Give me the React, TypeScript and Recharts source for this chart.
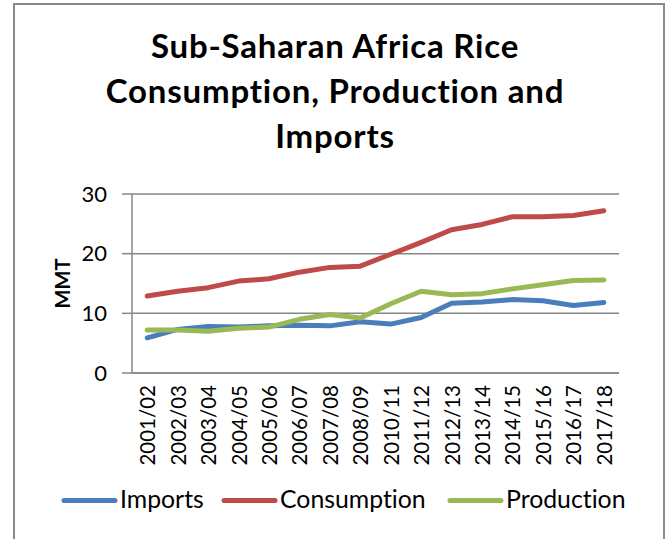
import { LineChart, Line, XAxis, YAxis, CartesianGrid } from "recharts";

const categories = [
  "2001/02", "2002/03", "2003/04", "2004/05", "2005/06", "2006/07", "2007/08", "2008/09",
  "2010/11", "2011/12", "2012/13", "2013/14", "2014/15", "2015/16", "2016/17", "2017/18",
];
const imports = [5.9, 7.3, 7.8, 7.7, 7.9, 8.0, 7.9, 8.6, 8.2, 9.3, 11.7, 11.9, 12.3, 12.1, 11.3, 11.8];
const consumption = [12.9, 13.7, 14.3, 15.4, 15.8, 16.9, 17.7, 17.9, 19.9, 21.9, 24.0, 24.9, 26.2, 26.2, 26.4, 27.2];
const production = [7.2, 7.2, 7.0, 7.5, 7.7, 9.0, 9.8, 9.2, 11.6, 13.7, 13.1, 13.3, 14.1, 14.8, 15.5, 15.6];
const yTicks = [0, 10, 20, 30];
const titleLines = ["Sub-Saharan Africa Rice", "Consumption, Production and", "Imports"];

const series = [
  { key: "imports", name: "Imports", color: "#4A7EBB" },
  { key: "consumption", name: "Consumption", color: "#BE4B48" },
  { key: "production", name: "Production", color: "#98B954" },
];

const data = categories.map((c, i) => ({
  year: c,
  imports: imports[i],
  consumption: consumption[i],
  production: production[i],
}));

// tick marks between categories, like Excel
const boundaryTicks = categories.map((_, i) => i).concat(categories.length);

const FONT = "Lato, 'Open Sans', sans-serif";
const GRID = "#868686";

function YearTick(props: any) {
  const { x, y, payload } = props;
  return (
    <text
      x={x}
      y={y + 4}
      transform={`rotate(-90, ${x}, ${y + 4})`}
      textAnchor="end"
      dominantBaseline="central"
      fontSize={20.5}
      fontFamily={FONT}
      fill="#000"
    >
      {payload.value}
    </text>
  );
}

export default function App() {
  return (
    <div style={{ position: "absolute", left: 0, top: 0, width: 670, height: 539, overflow: "hidden", background: "#fff" }}>
      <div style={{ position: "absolute", left: 13, top: 3, width: 652, height: 600, border: `2px solid #8a8a8a`, boxSizing: "border-box" }} />
      <div
        style={{
          position: "absolute", left: 0, top: 23, width: 670, textAlign: "center",
          fontFamily: FONT, fontWeight: 700, fontSize: 33, letterSpacing: 0.8,
          lineHeight: "45px", color: "#000", fontVariantLigatures: "none",
        }}
      >
        {titleLines.map((t) => (
          <div key={t}>{t}</div>
        ))}
      </div>
      <div style={{ position: "absolute", left: 0, top: 0 }}>
        <LineChart width={670} height={539} data={data} margin={{ top: 194, right: 51, left: 0, bottom: 0 }}>
          <CartesianGrid vertical={false} stroke={GRID} strokeWidth={1.5} />
          <XAxis
            xAxisId="marks"
            type="number"
            domain={[0, categories.length]}
            allowDataOverflow
            ticks={boundaryTicks}
            tick={false}
            tickSize={6}
            axisLine={false}
            tickLine={{ stroke: GRID, strokeWidth: 1.5 }}
            height={0}
          />
          <XAxis
            dataKey="year"
            scale="band"
            interval={0}
            height={166}
            tickLine={false}
            axisLine={{ stroke: GRID, strokeWidth: 1.5 }}
            tick={<YearTick />}
          />
          <YAxis
            width={132}
            domain={[0, 30]}
            ticks={yTicks}
            tickSize={10}
            tickMargin={15}
            axisLine={{ stroke: GRID, strokeWidth: 1.5 }}
            tickLine={{ stroke: GRID, strokeWidth: 1.5 }}
            tick={{ fontSize: 22, fontFamily: FONT, fill: "#000" }}
            label={{ value: "MMT", angle: -90, position: "center", dx: -3, fontSize: 20, fontWeight: 700, fontFamily: FONT, fill: "#000" }}
          />
          {series.map((s) => (
            <Line
              key={s.key}
              type="linear"
              dataKey={s.key}
              name={s.name}
              stroke={s.color}
              strokeWidth={5}
              strokeLinecap="round"
              strokeLinejoin="round"
              dot={false}
              activeDot={false}
              isAnimationActive={false}
            />
          ))}
        </LineChart>
      </div>
      <svg style={{ position: "absolute", left: 0, top: 470 }} width={670} height={60}>
        {series.map((s, i) => {
          const x0 = [62, 222, 448][i];
          return (
            <g key={s.key}>
              <line x1={x0 + 2} y1={30.5} x2={x0 + 53} y2={30.5} stroke={s.color} strokeWidth={5} strokeLinecap="round" />
              <text x={x0 + 58} y={38} fontSize={24.8} fontFamily={FONT} fill="#000" style={{ fontVariantLigatures: "none" }}>
                {s.name}
              </text>
            </g>
          );
        })}
      </svg>
    </div>
  );
}
